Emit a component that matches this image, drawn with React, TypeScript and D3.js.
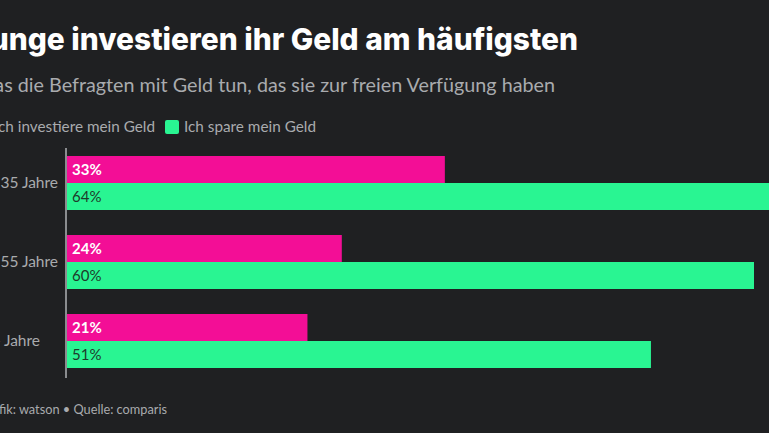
import React, { useLayoutEffect, useRef, useState } from "react";
import * as d3 from "d3";

const categories = ["18–35 Jahre", "36–55 Jahre", "56+ Jahre"];
const investValues = [33, 24, 21];
const saveValues = [64, 60, 51];
const seriesNames = ["Ich investiere mein Geld", "Ich spare mein Geld"];
const title = "Junge investieren ihr Geld am häufigsten";
const subtitle = "Was die Befragten mit Geld tun, das sie zur freien Verfügung haben";
const footer = "Grafik: watson • Quelle: comparis";

const W = 769;
const H = 433;
const BG = "#1f2022";
const PINK = "#f30e96";
const GREEN = "#29f592";
const GRAY = "#a9abae";

export default function App() {
  const x0 = 67;
  const x = d3.scaleLinear().domain([0, 100]).range([x0, x0 + 1145]);
  const y = d3.scaleBand().domain(categories).range([148.1, 375.9]).paddingInner(25 / 79).paddingOuter(0.1);
  const inner = d3.scaleBand().domain(["invest", "save"]).range([0, y.bandwidth()]);
  const bodyFont = "Lato, 'Noto Sans', sans-serif";
  const measRef = useRef<SVGTextElement>(null);
  const [labelX, setLabelX] = useState(-27);

  useLayoutEffect(() => {
    if (measRef.current) {
      const w = measRef.current.getComputedTextLength();
      setLabelX(58 - w);
    }
  }, []);

  return (
    <div style={{ position: "fixed", left: 0, top: 0, width: W, height: H, background: BG }}>
      <svg width={W} height={H} style={{ display: "block" }}>
        <rect width={W} height={H} fill={BG} />
        <text x={578} y={50} textAnchor="end" fill="#ffffff" fontFamily="Inter, sans-serif" fontWeight={800} fontSize={29.9}>{title}</text>
        <text x={555} y={92} textAnchor="end" fill={GRAY} fontFamily={bodyFont} fontSize={19.75}>{subtitle}</text>
        <g fontFamily={bodyFont} fontSize={15.3} fill={GRAY}>
          <rect x={-20} y={120} width={14} height={14} rx={2} fill={PINK} />
          <text x={155} y={132} textAnchor="end">{seriesNames[0]}</text>
          <rect x={165} y={120} width={14} height={14} rx={2} fill={GREEN} />
          <text x={184} y={132}>{seriesNames[1]}</text>
        </g>
        <text ref={measRef} x={-1000} y={-1000} fontFamily={bodyFont} fontSize={15.5}>{categories[0]}</text>
        {categories.map((c, i) => {
          const by = y(c)!;
          return (
            <g key={c}>
              <text x={labelX} y={by + y.bandwidth() / 2} dy="0.35em" textAnchor="start" fill={GRAY} fontFamily={bodyFont} fontSize={15.5}>{c}</text>
              <rect x={x(0)} y={by + inner("invest")!} width={x(investValues[i]) - x(0)} height={inner.bandwidth()} fill={PINK} />
              <rect x={x(0)} y={by + inner("save")!} width={x(saveValues[i]) - x(0)} height={inner.bandwidth()} fill={GREEN} />
              <text x={x(0) + 5} y={by + inner("invest")! + inner.bandwidth() / 2} dy="0.35em" fill="#ffffff" fontWeight={700} fontFamily={bodyFont} fontSize={15}>{investValues[i]}%</text>
              <text x={x(0) + 5} y={by + inner("save")! + inner.bandwidth() / 2} dy="0.35em" fill="#1e3b2b" fontFamily={bodyFont} fontSize={15}>{saveValues[i]}%</text>
            </g>
          );
        })}
        <line x1={66} x2={66} y1={148} y2={378} stroke="#8a8c8f" strokeWidth={2} />
        <text x={167} y={414} textAnchor="end" fill={GRAY} fontFamily={bodyFont} fontSize={12.75}>{footer}</text>
      </svg>
    </div>
  );
}
